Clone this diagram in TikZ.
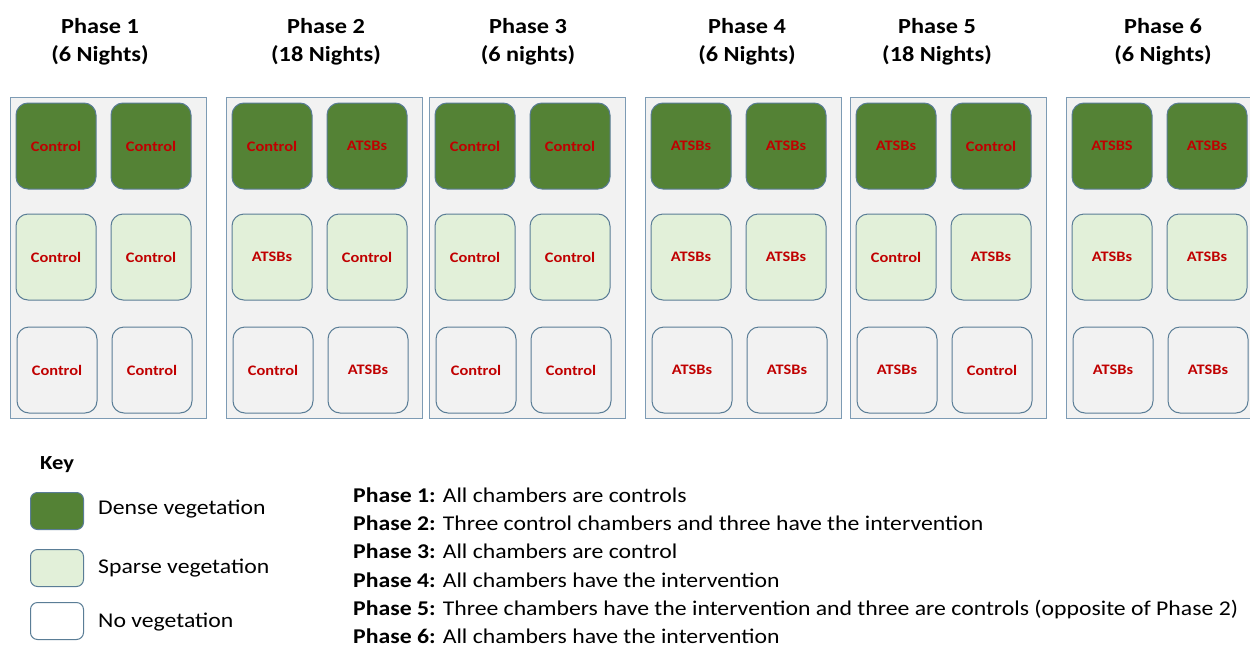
\documentclass[tikz,border=0pt]{standalone}
\usepackage{fontspec}
\setmainfont{Carlito}[FakeStretch=1.13]
\definecolor{densegreen}{RGB}{84,130,53}
\definecolor{sparsegreen}{RGB}{226,240,217}
\definecolor{panelbg}{RGB}{242,242,242}
\definecolor{panelline}{RGB}{125,155,180}
\definecolor{cellline}{RGB}{90,125,150}
\definecolor{labelred}{RGB}{192,0,0}
\begin{document}
\begin{tikzpicture}[x=1pt,y=-1pt,
  panel/.style={draw=panelline, fill=panelbg, line width=1pt, minimum width=196pt, minimum height=321pt, inner sep=0pt, anchor=north west},
  cell/.style={draw=cellline, line width=1pt, rounded corners=12pt, minimum width=80pt, minimum height=86pt, inner sep=0pt, font=\fontsize{14.5}{17}\selectfont\bfseries, text=labelred},
  dense/.style={cell, fill=densegreen},
  sparse/.style={cell, fill=sparsegreen},
  novege/.style={cell, fill=panelbg},
  keybox/.style={draw=cellline, line width=1pt, rounded corners=7pt, minimum width=53pt, minimum height=37pt, inner sep=0pt, anchor=north west},
  title/.style={font=\fontsize{21.5}{26}\selectfont\bfseries, align=center, anchor=base},
  keylabel/.style={font=\fontsize{21}{25}\selectfont, anchor=base west, inner sep=0pt},
  desc/.style={font=\fontsize{21}{25}\selectfont, anchor=base west, inner sep=0pt}
]
\useasboundingbox (0,0) rectangle (1250,648);
\clip (0,0) rectangle (1250,648);
\fill[white] (0,0) rectangle (1250,648);

% titles
\foreach \i/\x/\n in {1/100/6 Nights, 2/326/18 Nights, 3/528/6 nights, 4/747/6 Nights, 5/937/18 Nights, 6/1163/6 Nights}{
  \node[title] (ta\i) at (\x,33) {Phase \i};
  \node[title] (tb\i) at (\x,61) {(\n)};
}

% panels and cells
\foreach \i/\L/\a/\b/\c/\d/\e/\f in {
  1/10/Control/Control/Control/Control/Control/Control,
  2/226/Control/ATSBs/ATSBs/Control/Control/ATSBs,
  3/429/Control/Control/Control/Control/Control/Control,
  4/645/ATSBs/ATSBs/ATSBs/ATSBs/ATSBs/ATSBs,
  5/850/ATSBs/Control/Control/ATSBs/ATSBs/Control,
  6/1066/ATSBS/ATSBs/ATSBs/ATSBs/ATSBs/ATSBs}{
  \node[panel] (p\i) at (\L,97) {};
  \node[dense]  (c\i a) at (\L+46,146) {\a};
  \node[dense]  (c\i b) at (\L+141,146) {\b};
  \node[sparse] (c\i c) at (\L+46,257) {\c};
  \node[sparse] (c\i d) at (\L+141,257) {\d};
  \node[novege] (c\i e) at (\L+47,370) {\e};
  \node[novege] (c\i f) at (\L+142,370) {\f};
}

% key
\node[font=\fontsize{20}{24}\selectfont\bfseries, anchor=base west, inner sep=0pt] (key) at (40,469) {Key};
\node[keybox, fill=densegreen] (k1) at (30,492) {};
\node[keybox, fill=sparsegreen] (k2) at (30,549) {};
\node[keybox, fill=white] (k3) at (30,602) {};
\node[keylabel] (kl1) at (98,514) {Dense vegetation};
\node[keylabel] (kl2) at (98,573) {Sparse vegetation};
\node[keylabel] (kl3) at (98,627) {No vegetation};

% descriptions
\node[desc] (d1) at (353,502) {\textbf{Phase 1:} All chambers are controls};
\node[desc] (d2) at (353,530.3) {\textbf{Phase 2:} Three control chambers and three have the intervention};
\node[desc] (d3) at (353,558.6) {\textbf{Phase 3:} All chambers are control};
\node[desc] (d4) at (353,587) {\textbf{Phase 4:} All chambers have the intervention};
\node[desc] (d5) at (353,615.3) {\textbf{Phase 5:} Three chambers have the intervention and three are controls (opposite of Phase 2)};
\node[desc] (d6) at (353,643.6) {\textbf{Phase 6:} All chambers have the intervention};
\end{tikzpicture}
\end{document}
